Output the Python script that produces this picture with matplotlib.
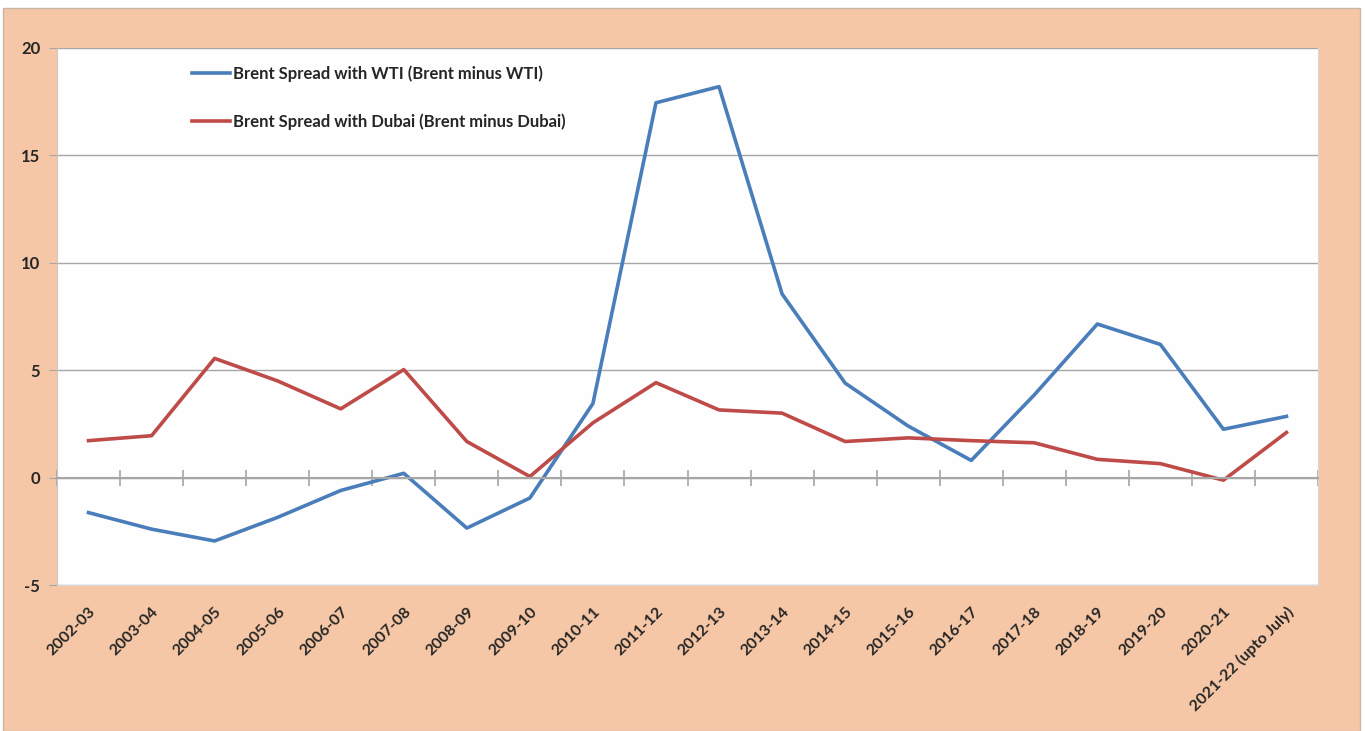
import matplotlib
matplotlib.use('Agg')
import matplotlib.pyplot as plt
from matplotlib.patches import Rectangle

# data
years = ['2002-03', '2003-04', '2004-05', '2005-06', '2006-07', '2007-08', '2008-09',
         '2009-10', '2010-11', '2011-12', '2012-13', '2013-14', '2014-15', '2015-16',
         '2016-17', '2017-18', '2018-19', '2019-20', '2020-21', '2021-22 (upto July)']
brent_wti = [-1.63, -2.4, -2.95, -1.85, -0.6, 0.2, -2.35, -0.95, 3.45, 17.45,
             18.2, 8.55, 4.4, 2.4, 0.8, 3.85, 7.15, 6.2, 2.25, 2.85]
brent_dubai = [1.72, 1.95, 5.55, 4.5, 3.2, 5.03, 1.68, 0.05, 2.55, 4.42,
               3.15, 3.0, 1.68, 1.85, 1.72, 1.62, 0.85, 0.65, -0.12, 2.1]

plt.rcParams['font.family'] = ['Lato', 'DejaVu Sans']
plt.rcParams['axes.unicode_minus'] = False

fig = plt.figure(figsize=(13.65, 7.31), dpi=100, facecolor='white')
# orange chart frame
fig.patches.append(Rectangle((3 / 1365, 0), 1357 / 1365, 723 / 731, transform=fig.transFigure,
                             facecolor='#f6c7a6', edgecolor='#c9b6a8', linewidth=1, zorder=-5))

ax = fig.add_axes([57 / 1365, 1 - 585 / 731, 1261 / 1365, 537 / 731])
ax.set_facecolor('#fefefe')

x = list(range(len(years)))
ax.plot(x, brent_wti, color='#4a7ebb', linewidth=2.6, label='Brent Spread with WTI (Brent minus WTI)')
ax.plot(x, brent_dubai, color='#be4b48', linewidth=2.6, label='Brent Spread with Dubai (Brent minus Dubai)')

ax.set_xlim(-0.5, len(years) - 0.5)
ax.set_ylim(-5, 20)
ax.set_yticks([-5, 0, 5, 10, 15, 20])
ax.yaxis.grid(True, color='#a6a6a6', linewidth=1)
ax.set_axisbelow(True)
ax.tick_params(axis='y', length=6, color='#a6a6a6', labelsize=12, pad=6)
for lbl in ax.get_yticklabels():
    lbl.set_fontweight('bold')
    lbl.set_color('#262626')

# category axis crossing at zero, ticks between categories
ax.spines['bottom'].set_position(('data', 0))
ax.spines['bottom'].set_color('#a6a6a6')
ax.spines['bottom'].set_linewidth(1.5)
ax.set_xticks([i - 0.5 for i in range(len(years) + 1)])
ax.set_xticklabels([])
ax.tick_params(axis='x', direction='inout', length=11, color='#a6a6a6', width=1.2)
ax.spines['top'].set_visible(False)
ax.spines['right'].set_color('#d9d9d9')
ax.spines['left'].set_color('#c8c8c8')

sec = ax.secondary_xaxis('bottom')
sec.set_xticks(x)
sec.set_xticklabels(years, rotation=45, ha='right', rotation_mode='anchor',
                    fontsize=11.5, fontweight='bold', color='#262626')
sec.tick_params(length=0, pad=14)
sec.spines['bottom'].set_color('#d9d9d9')

leg = ax.legend(loc='upper left', bbox_to_anchor=(0.095, 0.995), frameon=False,
                handlelength=2.3, handletextpad=0.15, labelspacing=1.85,
                prop={'size': 12, 'weight': 'bold'})
for t in leg.get_texts():
    t.set_color('#262626')

fig.savefig('out.png', dpi=100)
